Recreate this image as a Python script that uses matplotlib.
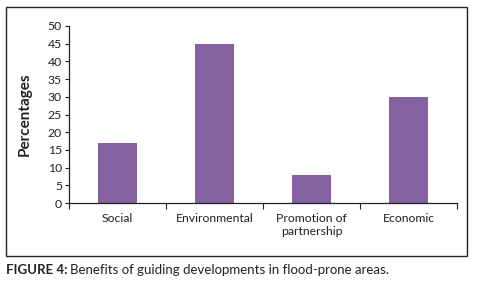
import matplotlib
matplotlib.use("Agg")
import matplotlib.pyplot as plt
from matplotlib.patches import Rectangle

categories = ["Social", "Environmental", "Promotion of\npartnership", "Economic"]
values = [17, 45, 8, 30]
yticks = [0, 5, 10, 15, 20, 25, 30, 35, 40, 45, 50]

plt.rcParams['font.family'] = ['Lato', 'DejaVu Sans']

W, H = 480, 290
fig = plt.figure(figsize=(W / 100, H / 100), dpi=100)
fig.patch.set_facecolor('white')

# outer frame
fig.patches.append(Rectangle((6 / W, 1 - 256 / H), 461 / W, 249 / H,
                             transform=fig.transFigure, fill=False,
                             edgecolor='#222222', linewidth=1.0))

ax = fig.add_axes([69 / W, 1 - 203 / H, (457 - 69) / W, (203 - 26) / H])
x = list(range(len(categories)))
ax.bar(x, values, width=0.41, color='#8462A0')
ax.set_xlim(-0.5, len(categories) - 0.5)
ax.set_ylim(0, 50)
ax.set_yticks(yticks)
ax.tick_params(axis='y', labelsize=8.8, length=3, width=0.8, pad=2, colors='#222222')
ax.set_xticks(x)
ax.set_xticklabels(categories, fontsize=8.8, color='#222222', linespacing=1.25)
ax.tick_params(axis='x', which='major', length=0, pad=7)
ax.set_xticks([i - 0.5 for i in range(len(categories) + 1)], minor=True)
ax.tick_params(axis='x', which='minor', length=4, width=0.8, color='#222222')
for s in ['top', 'right']:
    ax.spines[s].set_visible(False)
for s in ['left', 'bottom']:
    ax.spines[s].set_color('#222222')
    ax.spines[s].set_linewidth(0.9)
ax.set_ylabel("Percentages", fontsize=11, fontweight='bold', color='#222222')
ax.yaxis.set_label_coords(-0.095, 0.5)

# caption
renderer = fig.canvas.get_renderer()
t1 = fig.text(6 / W, 1 - 270 / H, "FIGURE 4:", fontsize=9.5, fontweight='bold',
              va='center', ha='left', color='#222222')
bb = t1.get_window_extent(renderer)
fig.text((bb.x1 + 3) / W, 1 - 270 / H, "Benefits of guiding developments in flood-prone areas.",
         fontsize=9.5, va='center', ha='left', color='#222222')

fig.savefig("out.png", dpi=100)
